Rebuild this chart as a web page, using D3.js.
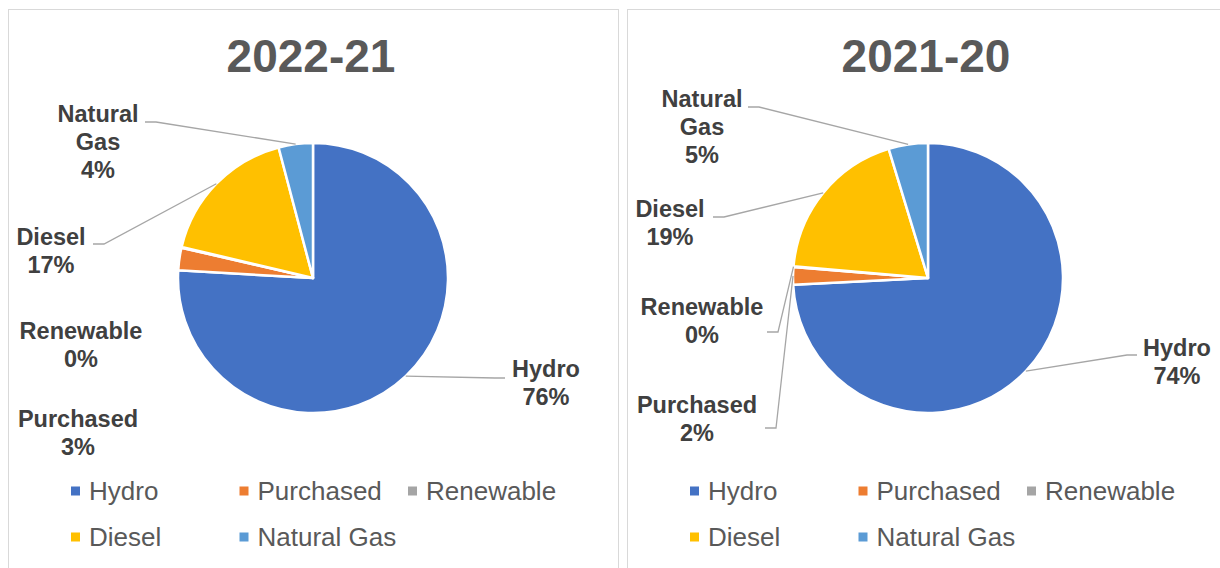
<!DOCTYPE html>
<html>
<head>
<meta charset="utf-8">
<script src="https://cdn.jsdelivr.net/npm/d3@7"></script>
<style>
  body { margin: 0; background: #fff; }
  svg { font-family: "Liberation Sans", Arial, sans-serif; }
</style>
</head>
<body>
<div id="divChart"></div>
<script>
// data (percent shares)
const categories = ['Hydro', 'Purchased', 'Renewable', 'Diesel', 'Natural Gas'];
const titles = ['2022-21', '2021-20'];
const values2022 = [75.9, 2.7, 0.1, 17.2, 4.1];
const values2021 = [74.2, 2.1, 0.1, 18.9, 4.7];
const colors = ['#4472C4', '#ED7D31', '#A5A5A5', '#FFC000', '#5B9BD5'];

// label placement (Excel puts them by hand, so do we)
// x = text centre, y = first baseline, end = where leader meets the text, side = which way the text sits
const labels2022 = [
  { x: 546, y: 377, end: [505, 378], side: 1 },
  { x: 78, y: 427, end: null },
  { x: 81, y: 339, end: null },
  { x: 51, y: 245, end: [93, 244], side: -1 },
  { x: 98, y: 122, end: [145, 122], side: -1, wrap: true }
];
const labels2021 = [
  { x: 1177, y: 356, end: [1137, 355], side: 1 },
  { x: 697, y: 413, end: [765, 428], side: -1 },
  { x: 702, y: 315, end: [767, 332], side: -1 },
  { x: 670, y: 217, end: [713, 217], side: -1 },
  { x: 702, y: 107, end: [748, 107], side: -1, wrap: true }
];

const width = 1220, height = 568;
const radius = 135;
const panelW = 610;

const svg = d3.select('#divChart')
  .append('svg')
  .attr('width', width)
  .attr('height', height);

const color = d3.scaleOrdinal().domain(categories).range(colors);
const pie = d3.pie().sort(null).value(d => d.value);
const arc = d3.arc().innerRadius(0).outerRadius(radius);

function drawChart(panelX, cx, title, values, labels) {
  // panel frame
  svg.append('rect')
    .attr('x', panelX + 0.5).attr('y', 9.5)
    .attr('width', panelW).attr('height', 600)
    .attr('fill', 'none')
    .attr('stroke', '#d9d9d9')
    .attr('stroke-width', 1);

  svg.append('text')
    .attr('x', cx - 2).attr('y', 72)
    .attr('text-anchor', 'middle')
    .attr('font-size', 46)
    .attr('font-weight', 'bold')
    .attr('fill', '#595959')
    .text(title);

  const cy = 278;
  const data = categories.map((c, i) => ({ name: c, value: values[i] }));
  const arcs = pie(data);

  const g = svg.append('g').attr('transform', `translate(${cx},${cy})`);
  g.selectAll('path')
    .data(arcs)
    .enter()
    .append('path')
    .attr('d', arc)
    .attr('fill', d => color(d.data.name))
    .attr('stroke', '#fff')
    .attr('stroke-width', 2.5)
    .attr('stroke-linejoin', 'round');

  // leader lines
  arcs.forEach((a, i) => {
    const lab = labels[i];
    if (!lab.end) return;
    const mid = (a.startAngle + a.endAngle) / 2;
    const px = cx + radius * Math.sin(mid);
    const py = cy - radius * Math.cos(mid);
    const elbow = [lab.end[0] - lab.side * (lab.side > 0 ? 10 : 11), lab.end[1]];
    svg.append('polyline')
      .attr('points', [[px, py], elbow, lab.end].map(p => p.join(',')).join(' '))
      .attr('fill', 'none')
      .attr('stroke', '#a6a6a6')
      .attr('stroke-width', 1.3);
  });

  // data labels
  arcs.forEach((a, i) => {
    const lab = labels[i];
    const lines = lab.wrap ? a.data.name.split(' ') : [a.data.name];
    lines.push(Math.round(a.data.value) + '%');
    const t = svg.append('text')
      .attr('text-anchor', 'middle')
      .attr('font-size', 23.5)
      .attr('font-weight', 'bold')
      .attr('fill', '#404040');
    lines.forEach((s, k) => {
      t.append('tspan')
        .attr('x', lab.x)
        .attr('y', lab.y + k * 27.8)
        .text(s);
    });
  });

  // legend, three per row
  const legend = svg.append('g');
  categories.forEach((c, i) => {
    const col = i % 3, row = Math.floor(i / 3);
    const lx = panelX + 63 + col * 168.5;
    const ly = 491 + row * 46;
    legend.append('rect')
      .attr('x', lx).attr('y', ly - 4.5)
      .attr('width', 9).attr('height', 9)
      .attr('fill', color(c));
    legend.append('text')
      .attr('x', lx + 18).attr('y', ly + 8.5)
      .attr('font-size', 26)
      .attr('fill', '#595959')
      .text(c);
  });
}

drawChart(8, 313, titles[0], values2022, labels2022);
drawChart(627, 928, titles[1], values2021, labels2021);
</script>
</body>
</html>
